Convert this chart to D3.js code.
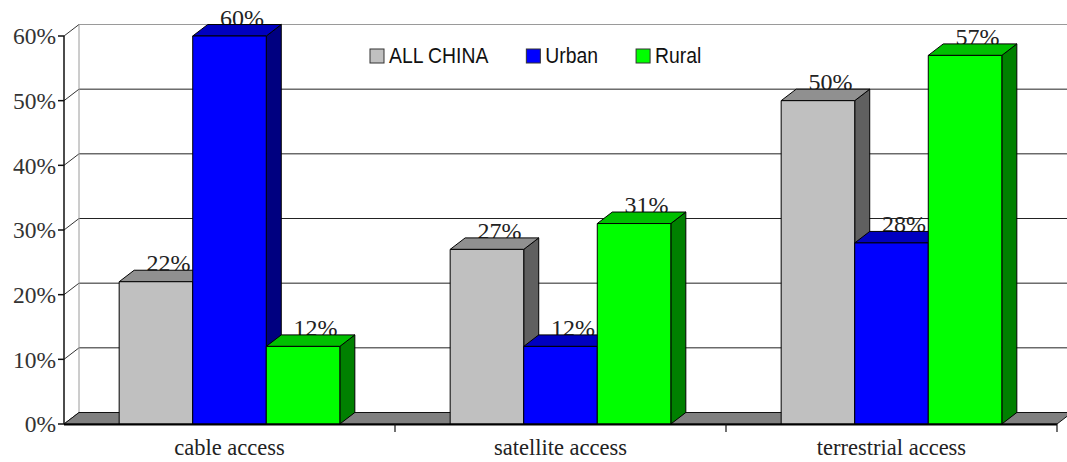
<!DOCTYPE html>
<html>
<head>
<meta charset="utf-8">
<script src="https://cdnjs.cloudflare.com/ajax/libs/d3/7.8.5/d3.min.js"></script>
<style>
  html, body { margin: 0; padding: 0; background: #fff; }
  svg { display: block; }
</style>
</head>
<body>
<svg id="chart" width="1067" height="462"></svg>
<script>
// Access to TV reception by type, China
const categories = ["cable access", "satellite access", "terrestrial access"];
const seriesNames = ["ALL CHINA", "Urban", "Rural"];
const allChina = [0.22, 0.27, 0.50];
const urban    = [0.60, 0.12, 0.28];
const rural    = [0.12, 0.31, 0.57];
const yTicks   = [0, 0.1, 0.2, 0.3, 0.4, 0.5, 0.6];

const seriesValues = [allChina, urban, rural];
// front, top, side shades for each series
const palette = [
  { front: "#c0c0c0", top: "#909090", side: "#606060" },
  { front: "#0000ff", top: "#0000c0", side: "#000080" },
  { front: "#00ff00", top: "#00c000", side: "#008000" }
];

const svg = d3.select("#chart");
const W = 1067;
const plotLeft = 64, plotRight = 1057, plotBottom = 424, plotTop = 36;
const dx = 15, dy = -11.5;   // depth offset of the 3D projection

const x0 = d3.scaleBand().domain(categories).range([plotLeft, plotRight]).padding(0);
const bw = x0.bandwidth();
const x1 = d3.scaleBand().domain(seriesNames).range([bw / 6, bw * 5 / 6]).padding(0);
const y = d3.scaleLinear().domain([0, 0.6]).range([plotBottom, plotTop]);

const serif = "'Liberation Serif', 'Times New Roman', serif";
const sans = "'Liberation Sans', Arial, sans-serif";
const pct = d3.format(".0%");

// back wall gridlines
const grid = svg.append("g");
yTicks.forEach((t, i) => {
  const yy = y(t) + dy;
  if (t > 0) {
    grid.append("line")
      .attr("x1", plotLeft + dx).attr("x2", W + 20)
      .attr("y1", yy).attr("y2", yy)
      .attr("stroke", i === yTicks.length - 1 ? "#9a9a9a" : "#222")
      .attr("stroke-width", 1);
  }
  // side wall diagonals
  grid.append("line")
    .attr("x1", plotLeft).attr("y1", y(t))
    .attr("x2", plotLeft + dx).attr("y2", yy)
    .attr("stroke", "#333").attr("stroke-width", 1);
});
// back-left corner of the wall
grid.append("line")
  .attr("x1", plotLeft + dx).attr("x2", plotLeft + dx)
  .attr("y1", y(0.6) + dy).attr("y2", y(0) + dy)
  .attr("stroke", "#9a9a9a");

// floor
svg.append("path")
  .attr("d", d3.line()([[plotLeft, y(0)], [plotLeft + dx, y(0) + dy], [plotRight + dx, y(0) + dy], [plotRight, y(0)]]) + "Z")
  .attr("fill", "#808080").attr("stroke", "#111").attr("stroke-width", 1);

// value labels sit behind the bars
const labels = svg.append("g");
const bars = svg.append("g");

categories.forEach((cat, ci) => {
  seriesNames.forEach((s, si) => {
    const v = seriesValues[si][ci];
    const xa = x0(cat) + x1(s);
    const xb = xa + x1.bandwidth();
    labels.append("text")
      .attr("x", (xa + xb) / 2 + dx / 2 + 5)
      .attr("y", y(v) + dy + 1)
      .attr("text-anchor", "middle")
      .attr("font-family", serif).attr("font-size", 24)
      .attr("fill", "#222")
      .text(pct(v));
  });
});

categories.forEach((cat, ci) => {
  seriesNames.forEach((s, si) => {
    const v = seriesValues[si][ci];
    const c = palette[si];
    const xa = x0(cat) + x1(s);
    const xb = xa + x1.bandwidth();
    const yt = y(v), yb = y(0);
    const g = bars.append("g").attr("stroke", "#000").attr("stroke-width", 1).attr("stroke-linejoin", "round");
    // side face
    g.append("path")
      .attr("d", d3.line()([[xb, yt], [xb + dx, yt + dy], [xb + dx, yb + dy], [xb, yb]]) + "Z")
      .attr("fill", c.side);
    // top face
    g.append("path")
      .attr("d", d3.line()([[xa, yt], [xa + dx, yt + dy], [xb + dx, yt + dy], [xb, yt]]) + "Z")
      .attr("fill", c.top);
    // front face
    g.append("rect")
      .attr("x", xa).attr("y", yt)
      .attr("width", xb - xa).attr("height", yb - yt)
      .attr("fill", c.front);
  });
});

// front value axis
const ax = svg.append("g");
ax.append("line")
  .attr("x1", plotLeft).attr("x2", plotLeft)
  .attr("y1", y(0.6)).attr("y2", y(0))
  .attr("stroke", "#111").attr("stroke-width", 1.5);
yTicks.forEach(t => {
  ax.append("line")
    .attr("x1", plotLeft - 6).attr("x2", plotLeft)
    .attr("y1", y(t)).attr("y2", y(t))
    .attr("stroke", "#111").attr("stroke-width", 1.5);
  ax.append("text")
    .attr("x", plotLeft - 8).attr("y", y(t))
    .attr("dy", "0.35em")
    .attr("text-anchor", "end")
    .attr("font-family", serif).attr("font-size", 23.5)
    .attr("fill", "#333")
    .text(pct(t));
});

// category axis
ax.append("line")
  .attr("x1", plotLeft).attr("x2", plotRight)
  .attr("y1", y(0) + 0.5).attr("y2", y(0) + 0.5)
  .attr("stroke", "#000").attr("stroke-width", 2);
categories.forEach(cat => {
  ax.append("line")
    .attr("x1", x0(cat) + bw).attr("x2", x0(cat) + bw)
    .attr("y1", y(0)).attr("y2", y(0) + 8)
    .attr("stroke", "#111").attr("stroke-width", 1.2);
  ax.append("text")
    .attr("x", x0(cat) + bw / 2).attr("y", 455)
    .attr("text-anchor", "middle")
    .attr("font-family", serif).attr("font-size", 22.5)
    .attr("fill", "#222")
    .text(cat);
});

// legend
const legend = svg.append("g");
let lx = 370;
seriesNames.forEach((s, si) => {
  legend.append("rect")
    .attr("x", lx).attr("y", 49).attr("width", 14).attr("height", 14)
    .attr("fill", palette[si].front).attr("stroke", "#333").attr("stroke-width", 1);
  const t = legend.append("text")
    .attr("x", lx + 19).attr("y", 63)
    .attr("font-family", sans).attr("font-size", 22)
    .attr("fill", "#111")
    .text(s);
  const w = t.node().getComputedTextLength() * 0.88;
  t.attr("textLength", w).attr("lengthAdjust", "spacingAndGlyphs");
  lx += 19 + w + 38;
});
</script>
</body>
</html>
